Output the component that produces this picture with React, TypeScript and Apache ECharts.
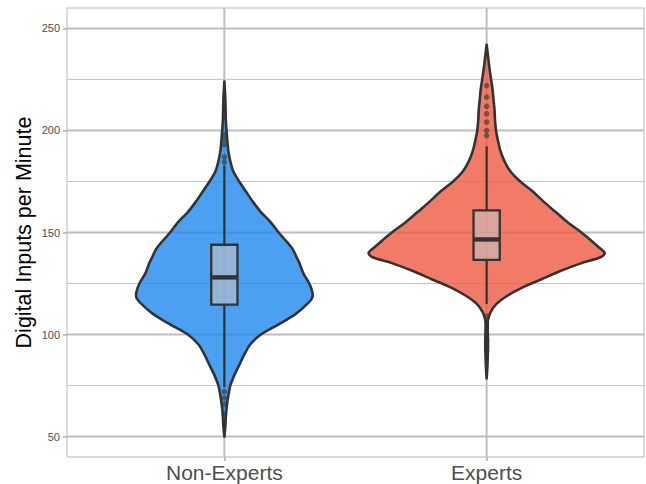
import React, { useEffect, useRef } from "react";
import * as echarts from "echarts";

const categories = ["Non-Experts", "Experts"];
const yMajorTicks = [50, 100, 150, 200, 250];
const yMinorTicks = [75, 125, 175, 225];

// Violin outlines: value -> relative density (arbitrary units, max = widest violin)
const nonExpertsY = [224, 215, 205, 195, 190, 185, 180, 175, 170, 165, 160, 155, 150, 145, 142, 138, 135, 130, 125, 121, 118, 115, 110, 105, 100, 95, 90, 85, 80, 75, 70, 65, 60, 55, 50];
const nonExpertsDensity = [0, 1, 1.5, 3, 4, 6, 9, 15, 22, 29, 37, 47, 55, 64, 69, 73, 76, 80, 86, 89, 89, 84, 72, 55, 37, 26, 20, 15, 10, 6, 4, 2.5, 1.5, 1, 0];

const expertsY = [242, 236, 230, 225, 220, 215, 210, 205, 200, 195, 190, 185, 180, 175, 170, 165, 160, 155, 150, 146, 143, 140, 138, 135, 131, 127, 123, 119, 115, 111, 107, 103, 99, 95, 91, 86, 82, 78.5];
const expertsDensity = [0, 1.5, 3, 4.5, 6, 7, 8, 8.5, 9.5, 11.5, 14, 18, 24, 34, 47, 58, 70, 82, 96, 106, 113, 119.5, 116, 96, 74, 55, 36, 21, 10, 4, 1.3, 1.1, 1.3, 1.4, 1.2, 0.9, 0.5, 0];

// Boxplot stats: [lower whisker, Q1, median, Q3, upper whisker]
const nonExpertsBox = [74.2, 114.7, 128, 144, 182.8];
const expertsBox = [115, 136.6, 146.6, 160.8, 192.2];

const nonExpertsOutliers = [184.5, 187, 193, 195.5, 198, 72, 69, 66, 61];
const expertsOutliers = [197.5, 200, 204.1, 208.2, 211.8, 216.3, 222, 109, 97, 94, 92];

const violinFills = ["rgba(30,136,237,0.8)", "rgba(239,90,66,0.8)"];
const boxFill = "rgba(200,194,192,0.6)";
const outlineColor = "#333333";
const gridColor = "#bebebe";

const violins = [
  { y: nonExpertsY, d: nonExpertsDensity, box: nonExpertsBox, out: nonExpertsOutliers },
  { y: expertsY, d: expertsDensity, box: expertsBox, out: expertsOutliers },
];

export default function App() {
  const ref = useRef<HTMLDivElement>(null);
  useEffect(() => {
    document.body.style.margin = "0";
    const chart = echarts.init(ref.current!, null, { renderer: "svg" });
    const maxD = Math.max(...nonExpertsDensity, ...expertsDensity);
    const halfWidth = 0.45;
    const boxHalf = 0.05;
    const font = "Liberation Sans, Arial, Helvetica, sans-serif";

    const option: any = {
      animation: false,
      grid: {
        left: 67,
        right: 2,
        top: 8,
        bottom: 27,
        show: true,
        borderColor: "#b8b8b8",
        borderWidth: 1,
        backgroundColor: "#ffffff",
      },
      xAxis: {
        type: "value",
        min: 0.4,
        max: 2.6,
        axisLine: { show: false },
        splitLine: { show: false },
        axisTick: {
          show: true,
          length: 4,
          customValues: [1, 2],
          lineStyle: { color: gridColor, width: 2 },
        },
        axisLabel: {
          show: true,
          customValues: [1, 2],
          formatter: (v: number) => categories[Math.round(v) - 1] ?? "",
          color: "#4d4d4d",
          fontSize: 21,
          fontFamily: font,
          margin: 5,
        },
      },
      yAxis: {
        type: "value",
        min: 40,
        max: 260,
        name: "Digital Inputs per Minute",
        nameLocation: "middle",
        nameGap: 32,
        nameMoveOverlap: false,
        nameTextStyle: { color: "#000000", fontSize: 21.5, fontFamily: font },
        axisLine: { show: false },
        splitLine: { show: false },
        axisTick: {
          show: true,
          length: 4,
          customValues: yMajorTicks,
          lineStyle: { color: gridColor, width: 2 },
        },
        axisLabel: {
          show: true,
          customValues: yMajorTicks,
          color: "#4d4d4d",
          fontSize: 11,
          fontFamily: font,
          margin: 7,
        },
      },
      series: [
        {
          type: "custom",
          name: "gridlines",
          silent: true,
          z: 1,
          data: [[1, 150]],
          renderItem: (params: any, api: any) => {
            const cs = params.coordSys;
            const children: any[] = [];
            yMinorTicks.forEach((t) => {
              const p = api.coord([1, t]);
              children.push({
                type: "line",
                shape: { x1: cs.x, y1: p[1], x2: cs.x + cs.width, y2: p[1] },
                style: { stroke: "#c4c4c4", lineWidth: 1 },
              });
            });
            yMajorTicks.forEach((t) => {
              const p = api.coord([1, t]);
              children.push({
                type: "line",
                shape: { x1: cs.x, y1: p[1], x2: cs.x + cs.width, y2: p[1] },
                style: { stroke: gridColor, lineWidth: 2 },
              });
            });
            [1, 2].forEach((c) => {
              const p = api.coord([c, 150]);
              children.push({
                type: "line",
                shape: { x1: p[0], y1: cs.y, x2: p[0], y2: cs.y + cs.height },
                style: { stroke: gridColor, lineWidth: 2 },
              });
            });
            return { type: "group", children };
          },
        },
        {
          type: "custom",
          name: "violins",
          silent: true,
          z: 2,
          data: [[1, 150], [2, 150]],
          renderItem: (params: any, api: any) => {
            const i = params.dataIndex;
            const v = violins[i];
            const xc = i + 1;
            const right: number[][] = [];
            const left: number[][] = [];
            for (let k = 0; k < v.y.length; k++) {
              const w = (v.d[k] / maxD) * halfWidth;
              right.push(api.coord([xc + w, v.y[k]]));
              left.push(api.coord([xc - w, v.y[k]]));
            }
            const points = right.concat(left.reverse());
            const [lw, q1, med, q3, uw] = v.box;
            const pL = api.coord([xc - boxHalf, q3]);
            const pR = api.coord([xc + boxHalf, q1]);
            const pc = (y: number) => api.coord([xc, y]);
            const children: any[] = [
              {
                type: "polygon",
                shape: { points, smooth: 0.3 },
                style: {
                  fill: violinFills[i],
                  stroke: outlineColor,
                  lineWidth: 2.6,
                  lineJoin: "round",
                },
              },
              {
                type: "line",
                shape: { x1: pc(q3)[0], y1: pc(q3)[1], x2: pc(uw)[0], y2: pc(uw)[1] },
                style: { stroke: outlineColor, lineWidth: 2.2 },
              },
              {
                type: "line",
                shape: { x1: pc(q1)[0], y1: pc(q1)[1], x2: pc(lw)[0], y2: pc(lw)[1] },
                style: { stroke: outlineColor, lineWidth: 2.2 },
              },
              {
                type: "rect",
                shape: { x: pL[0], y: pL[1], width: pR[0] - pL[0], height: pR[1] - pL[1] },
                style: { fill: boxFill, stroke: outlineColor, lineWidth: 2.3 },
              },
              {
                type: "line",
                shape: {
                  x1: api.coord([xc - boxHalf, med])[0],
                  y1: pc(med)[1],
                  x2: api.coord([xc + boxHalf, med])[0],
                  y2: pc(med)[1],
                },
                style: { stroke: outlineColor, lineWidth: 4.4 },
              },
            ];
            v.out.forEach((o) => {
              const p = pc(o);
              children.push({
                type: "circle",
                shape: { cx: p[0], cy: p[1], r: 2.8 },
                style: { fill: "rgba(51,51,51,0.6)" },
              });
            });
            return { type: "group", children };
          },
        },
      ],
    };
    chart.setOption(option);
    return () => chart.dispose();
  }, []);
  return <div ref={ref} style={{ width: 646, height: 484 }} />;
}
